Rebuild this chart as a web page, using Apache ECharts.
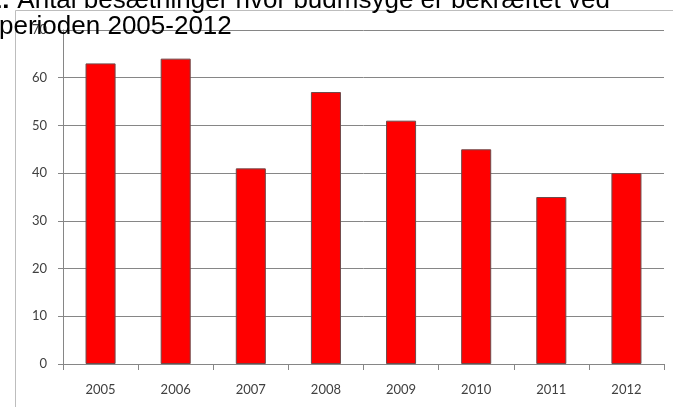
<!DOCTYPE html>
<html>
<head>
<meta charset="utf-8">
<script src="https://cdn.jsdelivr.net/npm/echarts@6/dist/echarts.min.js"></script>
<style>
html,body{margin:0;padding:0;background:#fff;}
#c{width:673px;height:407px;}
</style>
</head>
<body>
<div id="c"></div>
<script>
var categories = ['2005','2006','2007','2008','2009','2010','2011','2012'];
var values = [63, 64, 41, 57, 51, 45, 35, 40];
var yTicks = [0, 10, 20, 30, 40, 50, 60, 70];
var titleLine1 = 'Antal besætninger hvor budmsyge er bekræftet ved';
var titlePrefix = '1:';
var titleLine2 = 'perioden 2005-2012';

var chart = echarts.init(document.getElementById('c'));
chart.setOption({
  animation: false,
  backgroundColor: '#fff',
  graphic: [{
    type: 'polyline',
    z: 0,
    shape: { points: [[15.5, 407], [15.5, 10.5], [673, 10.5]] },
    style: { stroke: '#bdbdbd', lineWidth: 1, fill: null }
  }],
  title: [{
    text: '{b|' + titlePrefix + '} ' + titleLine1,
    left: -13, top: -12, padding: 0,
    textStyle: {
      fontFamily: 'Liberation Sans', fontSize: 26, fontWeight: 'normal', color: '#000', lineHeight: 26,
      rich: { b: { fontFamily: 'Liberation Sans', fontSize: 26, fontWeight: 'bold', color: '#000', lineHeight: 26 } }
    }
  }, {
    text: titleLine2,
    left: -1, top: 14, padding: 0,
    textStyle: { fontFamily: 'Liberation Sans', fontSize: 26, fontWeight: 'normal', color: '#000', lineHeight: 26 }
  }],
  grid: { left: 63, right: 9, top: 30, bottom: 43, containLabel: false },
  xAxis: {
    type: 'category',
    data: categories,
    axisLine: { lineStyle: { color: '#868686', width: 1 } },
    axisTick: { show: true, length: 6, lineStyle: { color: '#868686' } },
    axisLabel: { margin: 19, fontFamily: 'Lato', fontSize: 13, color: '#404040' }
  },
  yAxis: {
    type: 'value',
    min: yTicks[0], max: yTicks[yTicks.length - 1], interval: 10,
    axisLine: { show: true, lineStyle: { color: '#868686', width: 1 } },
    axisTick: { show: true, length: 5, lineStyle: { color: '#868686' } },
    axisLabel: { margin: 16, fontFamily: 'Lato', fontSize: 13, color: '#404040' },
    splitLine: { show: true, lineStyle: { color: '#868686', width: 1 } }
  },
  series: [{
    type: 'bar',
    data: values,
    barWidth: '40%',
    itemStyle: { color: '#ff0000', borderColor: '#6e4a4a', borderWidth: 1 }
  }]
});
</script>
</body>
</html>
